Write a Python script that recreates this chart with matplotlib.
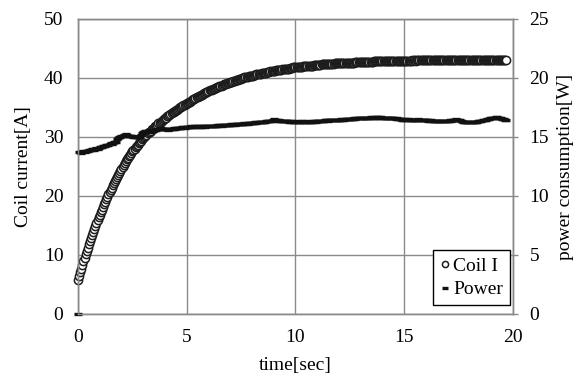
import matplotlib
matplotlib.use("Agg")
import matplotlib.pyplot as plt
import numpy as np

plt.rcParams['font.family'] = ['Liberation Serif', 'DejaVu Serif']

# sampled every 0.05 s
dt = 0.05

# Coil current [A]
coil_i = [
    5.8, 6.5, 7.1, 7.7, 8.3, 8.9, 9.5, 10.1, 10.7, 11.2,
    11.8, 12.3, 12.9, 13.4, 13.9, 14.4, 14.9, 15.4, 15.9, 16.4,
    16.8, 17.3, 17.7, 18.2, 18.6, 19.0, 19.5, 19.9, 20.3, 20.7,
    21.1, 21.4, 21.8, 22.2, 22.6, 22.9, 23.3, 23.6, 23.9, 24.3,
    24.6, 24.9, 25.2, 25.6, 25.9, 26.2, 26.5, 26.7, 27.0, 27.3,
    27.6, 27.8, 28.0, 28.3, 28.5, 28.7, 28.9, 29.1, 29.4, 29.6,
    29.8, 30.0, 30.2, 30.4, 30.6, 30.8, 30.9, 31.1, 31.3, 31.4,
    31.6, 31.8, 31.9, 32.1, 32.3, 32.4, 32.6, 32.7, 32.9, 33.0,
    33.2, 33.3, 33.5, 33.6, 33.8, 33.9, 34.0, 34.2, 34.3, 34.4,
    34.5, 34.6, 34.8, 34.9, 35.0, 35.1, 35.2, 35.4, 35.5, 35.6,
    35.7, 35.8, 35.9, 36.0, 36.1, 36.3, 36.4, 36.5, 36.6, 36.7,
    36.8, 36.9, 37.0, 37.1, 37.2, 37.3, 37.4, 37.5, 37.6, 37.7,
    37.8, 37.9, 37.9, 38.0, 38.1, 38.2, 38.3, 38.3, 38.4, 38.5,
    38.6, 38.7, 38.7, 38.8, 38.9, 38.9, 39.0, 39.1, 39.1, 39.2,
    39.3, 39.4, 39.4, 39.5, 39.5, 39.6, 39.7, 39.7, 39.8, 39.8,
    39.9, 40.0, 40.0, 40.1, 40.1, 40.2, 40.2, 40.3, 40.3, 40.4,
    40.4, 40.4, 40.5, 40.5, 40.6, 40.6, 40.6, 40.7, 40.7, 40.8,
    40.8, 40.8, 40.9, 40.9, 41.0, 41.0, 41.0, 41.1, 41.1, 41.2,
    41.2, 41.2, 41.3, 41.3, 41.3, 41.4, 41.4, 41.4, 41.5, 41.5,
    41.5, 41.5, 41.6, 41.6, 41.6, 41.7, 41.7, 41.7, 41.8, 41.8,
    41.8, 41.8, 41.8, 41.9, 41.9, 41.9, 41.9, 42.0, 42.0, 42.0,
    42.0, 42.0, 42.0, 42.1, 42.1, 42.1, 42.1, 42.2, 42.2, 42.2,
    42.2, 42.2, 42.2, 42.2, 42.3, 42.3, 42.3, 42.3, 42.3, 42.3,
    42.4, 42.4, 42.4, 42.4, 42.4, 42.4, 42.5, 42.5, 42.5, 42.5,
    42.5, 42.5, 42.5, 42.5, 42.5, 42.6, 42.6, 42.6, 42.6, 42.6,
    42.6, 42.6, 42.6, 42.6, 42.6, 42.7, 42.7, 42.7, 42.7, 42.7,
    42.7, 42.7, 42.7, 42.7, 42.7, 42.7, 42.7, 42.7, 42.7, 42.7,
    42.7, 42.7, 42.8, 42.8, 42.8, 42.8, 42.8, 42.8, 42.8, 42.8,
    42.8, 42.8, 42.8, 42.8, 42.8, 42.8, 42.8, 42.8, 42.9, 42.9,
    42.9, 42.9, 42.9, 42.9, 42.9, 42.9, 42.9, 42.9, 42.9, 42.9,
    42.9, 42.9, 42.9, 42.9, 42.9, 42.9, 42.9, 43.0, 42.9, 43.0,
    43.0, 42.9, 43.0, 43.0, 43.0, 43.0, 43.0, 43.0, 43.0, 43.0,
    43.0, 43.0, 43.1, 43.0, 43.0, 43.0, 43.0, 43.1, 43.0, 43.0,
    43.0, 43.1, 43.0, 43.0, 43.1, 43.0, 43.0, 43.0, 43.1, 43.0,
    43.0, 43.1, 43.0, 43.0, 43.1, 43.1, 43.0, 43.0, 43.1, 43.0,
    43.1, 43.1, 43.0, 43.1, 43.0, 43.1, 43.1, 43.0, 43.1, 43.1,
    43.1, 43.0, 43.1, 43.1, 43.1, 43.0, 43.1, 43.1, 43.0, 43.1,
    43.1, 43.1, 43.0, 43.1, 43.1, 43.1, 43.0, 43.1, 43.1, 43.1,
    43.0, 43.1, 43.1, 43.1, 43.0, 43.1, 43.1, 43.0, 43.1, 43.1,
    43.1, 43.0, 43.1, 43.1, 43.1,
]

# Power consumption [W]
power = [
    0.0,
    13.70, 13.72, 13.68, 13.75, 13.78, 13.74, 13.80, 13.83, 13.79, 13.86,
    13.90, 13.88, 13.95, 13.98, 13.93, 14.02, 14.05, 14.00, 14.10, 14.15,
    14.18, 14.12, 14.22, 14.25, 14.20, 14.30, 14.34, 14.28, 14.40, 14.45,
    14.42, 14.50, 14.55, 14.60, 14.58, 14.80, 14.95, 15.00, 14.98, 15.05,
    15.10, 15.15, 15.20, 15.22, 15.18, 15.12, 15.10, 15.08, 15.10, 15.06,
    15.04, 15.00, 14.98, 15.02, 15.00, 14.97, 15.05, 15.20, 15.35, 15.42,
    15.45, 15.48, 15.50, 15.46, 15.52, 15.55, 15.50, 15.58, 15.55, 15.60,
    15.62, 15.58, 15.65, 15.70, 15.68, 15.72, 15.66, 15.70, 15.65, 15.68,
    15.64, 15.66, 15.62, 15.65, 15.68, 15.64, 15.70, 15.72, 15.68, 15.74,
    15.76, 15.72, 15.78, 15.80, 15.76, 15.82, 15.84, 15.80, 15.86, 15.85,
    15.88, 15.84, 15.86, 15.90, 15.88, 15.85, 15.92, 15.90, 15.87, 15.90,
    15.92, 15.88, 15.86, 15.90, 15.93, 15.89, 15.87, 15.91, 15.94, 15.90,
    15.92, 15.95, 15.90, 15.93, 15.97, 15.94, 15.96, 15.99, 15.95, 15.98,
    16.00, 15.97, 16.02, 15.99, 16.01, 16.00,
    16.03, 16.00, 16.05, 16.02, 16.06, 16.04, 16.08, 16.05, 16.07, 16.10,
    16.06, 16.09, 16.12, 16.10,
    16.13, 16.11, 16.15, 16.12, 16.17, 16.14, 16.18, 16.16, 16.20, 16.19,
    16.22, 16.20, 16.24, 16.21, 16.26, 16.24, 16.28, 16.25, 16.30, 16.28,
    16.31, 16.29, 16.33, 16.35, 16.32, 16.36, 16.38, 16.35, 16.40, 16.52,
    16.42, 16.40,
    16.42, 16.38, 16.40, 16.37, 16.39, 16.35, 16.38, 16.34, 16.36, 16.32,
    16.35, 16.31, 16.33, 16.30, 16.32, 16.30,
    16.31, 16.29, 16.32, 16.30, 16.28, 16.31, 16.29, 16.33, 16.30, 16.28,
    16.32, 16.30, 16.29, 16.31, 16.28, 16.30, 16.32, 16.30,
    16.32, 16.34, 16.31, 16.35, 16.33, 16.36, 16.38, 16.35, 16.39, 16.37,
    16.40, 16.40,
    16.41, 16.39, 16.42, 16.44, 16.41, 16.45, 16.43, 16.46, 16.44, 16.47,
    16.45, 16.48, 16.46, 16.49, 16.47, 16.50, 16.48, 16.50,
    16.52, 16.50, 16.53, 16.55, 16.52, 16.56, 16.54, 16.58, 16.56, 16.59,
    16.57, 16.60, 16.62, 16.60,
    16.62, 16.60, 16.63, 16.61, 16.64, 16.62, 16.65, 16.63, 16.66, 16.64,
    16.66, 16.63, 16.65, 16.67, 16.64, 16.66, 16.68, 16.65,
    16.66, 16.64, 16.65, 16.62, 16.64, 16.61, 16.63, 16.60, 16.62, 16.59,
    16.61, 16.60,
    16.58, 16.56, 16.58, 16.55, 16.53, 16.52, 16.54, 16.45, 16.40, 16.50,
    16.48, 16.50, 16.47, 16.49, 16.46, 16.48, 16.45, 16.47, 16.44, 16.46,
    16.43, 16.45, 16.55, 16.44, 16.42, 16.44, 16.41, 16.43,
    16.42, 16.40, 16.42, 16.39, 16.41, 16.38, 16.40, 16.37, 16.39, 16.36,
    16.38, 16.35, 16.37, 16.34, 16.36, 16.35, 16.33, 16.36, 16.34, 16.35,
    16.36, 16.38, 16.37, 16.40, 16.39, 16.42, 16.41, 16.44, 16.43, 16.52,
    16.45, 16.44,
    16.40, 16.36, 16.33, 16.30, 16.28, 16.27, 16.25, 16.26, 16.24, 16.25,
    16.23, 16.25, 16.24, 16.25,
    16.27, 16.29, 16.31, 16.33, 16.35, 16.36, 16.38, 16.40, 16.42, 16.44,
    16.47, 16.50, 16.53, 16.55, 16.58, 16.60, 16.62, 16.64, 16.65, 16.66,
    16.67,
    16.65, 16.63, 16.60, 16.58, 16.55, 16.52, 16.50, 16.48, 16.46,
]

t = np.arange(len(coil_i)) * dt
grid_c = '#8a8a8a'

fig = plt.figure(figsize=(5.85, 3.76), dpi=100)
ax = fig.add_axes([0.1333, 0.1649, 0.7436, 0.7846])
ax2 = ax.twinx()

l1, = ax.plot(t, coil_i, 'o', ms=5.9, mfc='white', mec='#1c1c1c', mew=1.1,
              label='Coil I', clip_on=False)
l2, = ax2.plot(t[:len(power)], power, '_', ms=5.8, mec='#111111', mew=2.4,
               label='Power', clip_on=False)

ax.set_xlim(0, 20)
ax.set_ylim(0, 50)
ax2.set_ylim(0, 25)
ax.set_xticks([0, 5, 10, 15, 20])
ax.set_yticks([0, 10, 20, 30, 40, 50])
ax2.set_yticks([0, 5, 10, 15, 20, 25])
ax.grid(True, color=grid_c, lw=1.0)
ax.set_axisbelow(True)

for a in (ax, ax2):
    for s in a.spines.values():
        s.set_color(grid_c)
        s.set_linewidth(1.0)

ax.tick_params(axis='y', length=0, pad=10.5, labelsize=14)
ax.tick_params(axis='x', length=0, pad=11, labelsize=14)
ax2.tick_params(axis='y', length=3.8, width=1.0, color=grid_c, pad=8, labelsize=14)

fig.text(0.041, 0.556, 'Coil current[A]', rotation=90, ha='center', va='center', fontsize=14)
fig.text(0.966, 0.556, 'power consumption[W]', rotation=90, ha='center', va='center', fontsize=14)
fig.text(0.504, 0.029, 'time[sec]', ha='center', va='center', fontsize=14)

leg = ax2.legend([l1, l2], ['Coil I', 'Power'], loc='lower right',
                 bbox_to_anchor=(0.993, 0.03), borderaxespad=0, fontsize=14,
                 fancybox=False, framealpha=1, edgecolor='black',
                 handlelength=0.5, handletextpad=0.2, borderpad=0.35,
                 labelspacing=0.3, markerscale=0.75)
leg.get_frame().set_linewidth(1.0)

fig.savefig('out.png', dpi=100)
